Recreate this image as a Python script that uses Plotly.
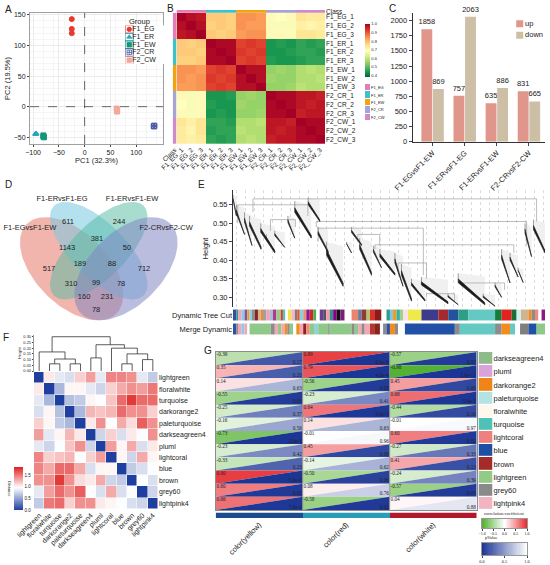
import numpy as np
import plotly.graph_objects as go
from plotly.colors import sample_colorscale

W, H = 550, 565
SANS = "Liberation Sans"
SERIF = "Liberation Serif"
INK = "#222222"

# ---------------- data ----------------
# A: PCA
pca_groups = ["F1_EG", "F1_ER", "F1_EW", "F2_CR", "F2_CW"]
pca_pc1 = [[-25, -25, -25], [-95, -95, -94], [-80, -80, -79], [135, 134, 135], [63, 63, 62]]
pca_pc2 = [[143, 127, 120], [-44, -45, -44], [-47, -49, -50], [-32, -32, -31], [-5, -8, -3]]
pca_colors = ["#E8392E", "#25A7C0", "#14967A", "#4B5AA8", "#F3A89A"]
pca_symbols = ["circle", "triangle-up", "square", "square-cross-open", "square"]

# B: sample correlation
samples = ["F1_EG_1", "F1_EG_2", "F1_EG_3", "F1_ER_1", "F1_ER_2", "F1_ER_3",
           "F1_EW_1", "F1_EW_2", "F1_EW_3", "F2_CR_1", "F2_CR_2", "F2_CR_3",
           "F2_CW_1", "F2_CW_2", "F2_CW_3"]
sample_corr = [
    [1.00, 0.98, 0.97, 0.78, 0.78, 0.77, 0.84, 0.84, 0.83, 0.70, 0.69, 0.70, 0.74, 0.73, 0.73],
    [0.98, 1.00, 0.98, 0.77, 0.78, 0.77, 0.84, 0.83, 0.83, 0.68, 0.68, 0.68, 0.72, 0.71, 0.72],
    [0.97, 0.98, 1.00, 0.78, 0.77, 0.78, 0.83, 0.84, 0.84, 0.70, 0.70, 0.70, 0.74, 0.74, 0.73],
    [0.78, 0.77, 0.78, 1.00, 0.99, 0.99, 0.92, 0.93, 0.92, 0.44, 0.45, 0.44, 0.46, 0.45, 0.46],
    [0.78, 0.78, 0.77, 0.99, 1.00, 0.99, 0.93, 0.92, 0.93, 0.44, 0.44, 0.45, 0.46, 0.46, 0.45],
    [0.77, 0.77, 0.78, 0.99, 0.99, 1.00, 0.92, 0.93, 0.92, 0.45, 0.44, 0.44, 0.45, 0.46, 0.46],
    [0.84, 0.84, 0.83, 0.92, 0.93, 0.92, 1.00, 0.98, 0.98, 0.55, 0.56, 0.55, 0.58, 0.59, 0.58],
    [0.84, 0.83, 0.84, 0.93, 0.92, 0.93, 0.98, 1.00, 0.98, 0.56, 0.55, 0.55, 0.58, 0.58, 0.59],
    [0.83, 0.83, 0.84, 0.92, 0.93, 0.92, 0.98, 0.98, 1.00, 0.55, 0.55, 0.56, 0.59, 0.58, 0.58],
    [0.70, 0.68, 0.70, 0.44, 0.44, 0.45, 0.55, 0.56, 0.55, 1.00, 0.99, 0.99, 0.97, 0.97, 0.96],
    [0.69, 0.68, 0.70, 0.45, 0.44, 0.44, 0.56, 0.55, 0.55, 0.99, 1.00, 0.99, 0.97, 0.96, 0.97],
    [0.70, 0.68, 0.70, 0.44, 0.45, 0.44, 0.55, 0.55, 0.56, 0.99, 0.99, 1.00, 0.96, 0.97, 0.97],
    [0.74, 0.72, 0.74, 0.46, 0.46, 0.45, 0.58, 0.58, 0.59, 0.97, 0.97, 0.96, 1.00, 0.99, 0.99],
    [0.73, 0.71, 0.74, 0.45, 0.46, 0.46, 0.59, 0.58, 0.58, 0.97, 0.96, 0.97, 0.99, 1.00, 0.99],
    [0.73, 0.72, 0.73, 0.46, 0.45, 0.46, 0.58, 0.59, 0.58, 0.96, 0.97, 0.97, 0.99, 0.99, 1.00],
]
class_names = ["F1_EG", "F1_ER", "F1_EW", "F2_CR", "F2_CW"]
class_colors = ["#E27DB6", "#3CC2CD", "#EFA512", "#A7A3D6", "#CF8ACB"]
sample_class = [0, 0, 0, 1, 1, 1, 2, 2, 2, 3, 3, 3, 4, 4, 4]

# C: DEG counts
deg_pairs = ["F1-EGvsF1-EW", "F1-ERvsF1-EG", "F1-ERvsF1-EW", "F2-CRvsF2-CW"]
deg_up = [1858, 757, 635, 831]
deg_down = [869, 2063, 886, 665]
deg_names = ["up", "down"]
deg_colors = ["#E0968A", "#CDBFA5"]

# D: Venn
venn_sets = ["F1-EGvsF1-EW", "F1-ERvsF1-EG", "F1-ERvsF1-EW", "F2-CRvsF2-CW"]
venn_counts = [517, 611, 244, 712, 1143, 381, 50, 189, 88, 310, 99, 78, 160, 231, 78]

# E: WGCNA dendrogram (leaf position in %, heights)
e_left = [0, 1.1, 3.7, 5.3, 8.9, 10.7, 13.4, 17.6, 19.8, 24.1, 27.3, 30.0, 36.4, 38.0, 40.6,
          45.0, 47.1, 51.9, 54.0, 57.2, 60.4, 68.9, 72.2, 80.2, 84.0, 86.1, 88.8, 91.4, 93.6, 96.3]
e_right = [1.1, 3.7, 6.1, 9.0, 13.4, 13.4, 16.6, 19.8, 25.1, 27.8, 30.5, 35.3, 38.0, 41.2, 44.4,
           47.6, 51.9, 54.5, 57.2, 61.5, 68.9, 72.2, 80.7, 84.0, 86.1, 88.8, 91.4, 93.0, 95.7, 100]
e_top = [0.577, 0.55, 0.53, 0.52, 0.50, 0.47, 0.48, 0.52, 0.56, 0.57, 0.49, 0.45, 0.45, 0.49, 0.46,
         0.44, 0.43, 0.42, 0.39, 0.35, 0.355, 0.31, 0.365, 0.31, 0.34, 0.43, 0.42, 0.38, 0.50, 0.51]
e_bottom = [0.52, 0.47, 0.44, 0.43, 0.42, 0.425, 0.435, 0.46, 0.46, 0.505, 0.42, 0.33, 0.42, 0.44, 0.36,
            0.38, 0.36, 0.33, 0.29, 0.29, 0.283, 0.28, 0.28, 0.276, 0.30, 0.339, 0.355, 0.34, 0.41, 0.42]
e_join_left = [6.4, 1.5, 26.7, 27.3, 45.5, 52.9, 62.0, 73.3, 40.0, 12.0]
e_join_right = [97.3, 24.0, 94.1, 61.0, 90.0, 62.0, 71.0, 87.0, 47.0, 20.0]
e_join_height = [0.566, 0.55, 0.505, 0.487, 0.442, 0.393, 0.31, 0.339, 0.47, 0.51]
e_join_left_end = [0.53, 0.50, 0.49, 0.45, 0.43, 0.37, 0.30, 0.33, 0.45, 0.48]
e_join_right_end = [0.505, 0.52, 0.44, 0.36, 0.42, 0.35, 0.29, 0.32, 0.44, 0.49]

dyn_segments = [
    (0, "#2F4FA0"), (1.1, "#2A9D8F"), (1.6, "#F4A6B5"), (2.7, "#8EC9E8"), (3.7, "#7E57A6"),
    (4.6, "#F39A1E"), (5.3, "#87CEEB"), (6.1, "#8C8C8C"), (7.0, "#8B2323"), (8.0, "#D2B48C"),
    (8.9, "#F08A24"), (9.6, "#A0A0A0"), (10.7, "#F2A1B8"), (11.8, "#A9BCD8"), (12.8, "#B03A8E"),
    (13.9, "#9BCB8A"), (15.3, "#E03A2E"), (16.0, "#4FC9C0"), (16.8, "#FFFFFF"), (17.6, "#F2E34C"),
    (18.7, "#F5B7C5"), (19.8, "#7F7F7F"), (20.6, "#E8552B"), (21.4, "#7FD6E3"), (22.5, "#EE8C7A"),
    (23.5, "#8B1A89"), (24.6, "#D62728"), (25.7, "#4CAF50"), (26.7, "#FFFFFF"), (27.8, "#6A3D9A"),
    (28.9, "#555555"), (29.9, "#F29CB2"), (31.0, "#3A8F8A"), (32.1, "#8B008B"), (33.2, "#111111"),
    (34.4, "#7B1E7A"), (35.8, "#FFFFFF"), (38.0, "#E9846F"), (40.1, "#6A7BA2"), (41.2, "#8E3B3B"),
    (42.8, "#B5C46A"), (43.9, "#D7322C"), (45.5, "#8B1A1A"), (47.6, "#FFFFFF"), (49.2, "#2A9D8F"),
    (50.3, "#7EC8E3"), (51.3, "#F39A1E"), (52.4, "#3AB0A5"), (53.5, "#9FD28A"), (54.5, "#F8E1E7"),
    (56.1, "#EFE94A"), (60.4, "#3E3A8C"), (65.8, "#A32A2E"), (69.0, "#2450A0"), (72.2, "#2E9E87"),
    (75.4, "#63C9C2"), (84.0, "#177B3C"), (86.1, "#E3211F"), (89.3, "#1B6E35"), (90.9, "#CFF0F2"),
    (92.3, "#D2B48C"), (94.7, "#F08A24"), (95.7, "#8C8C8C"), (96.8, "#EE8C7A"), (97.9, "#FFFFFF"),
    (98.9, "#8B1A89"),
]
merge_segments = [
    (0, "#2F4FA0"), (1.1, "#8C8C8C"), (1.6, "#F4A6B5"), (2.7, "#8EC9E8"), (3.7, "#F4A6B5"),
    (4.6, "#FFFFFF"), (5.3, "#8FC98A"), (12.1, "#8C8C8C"), (13.4, "#F4A6B5"), (14.4, "#8FC98A"),
    (15.5, "#F4A6B5"), (16.6, "#F28C1C"), (17.4, "#8C8C8C"), (18.2, "#8FC98A"), (19.3, "#FFFFFF"),
    (20.3, "#F28C1C"), (21.4, "#F4A6B5"), (22.5, "#8B2323"), (23.5, "#EE8C7A"), (24.6, "#8FC98A"),
    (26.2, "#8ED1E0"), (27.3, "#8FC98A"), (30.5, "#8C8C8C"), (31.0, "#8FC98A"), (38.0, "#8C8C8C"),
    (39.0, "#8FC98A"), (40.1, "#F4A6B5"), (41.2, "#8C8C8C"), (42.2, "#F4A6B5"), (43.9, "#B03A2E"),
    (45.5, "#8B2323"), (47.1, "#FFFFFF"), (48.1, "#8C8C8C"), (49.2, "#2F4FA0"), (50.3, "#F28C1C"),
    (51.9, "#8C8C8C"), (52.9, "#FFFFFF"), (55.1, "#2151A6"), (71.1, "#8C8C8C"), (72.7, "#63C9C2"),
    (84.0, "#8C8C8C"), (86.1, "#F28C1C"), (88.8, "#63C9C2"), (90.4, "#FFFFFF"), (92.0, "#7F7F7F"),
    (94.7, "#2151A6"), (97.3, "#8FC98A"),
]

# F: module distance
f_modules = ["lightgreen", "floralwhite", "turquoise", "darkorange2", "paleturquoise", "darkseagreen4",
             "pluml", "lightcoral", "blue", "brown", "grey60", "lightpink4"]
f_dist = [
    [0.00, 1.05, 0.85, 0.80, 1.15, 1.35, 0.85, 1.45, 1.45, 1.40, 0.85, 0.70],
    [1.05, 0.00, 0.60, 1.00, 1.00, 0.85, 0.75, 1.15, 1.30, 1.40, 1.35, 1.50],
    [0.85, 0.60, 0.00, 0.65, 0.70, 1.00, 0.95, 1.20, 1.55, 1.75, 1.55, 1.55],
    [0.80, 1.00, 0.65, 0.00, 0.60, 1.25, 1.20, 1.25, 1.55, 1.40, 1.40, 1.15],
    [1.15, 1.00, 0.70, 0.60, 0.00, 1.05, 1.40, 0.95, 1.30, 1.10, 1.60, 1.40],
    [1.35, 0.85, 1.00, 1.25, 1.05, 0.00, 0.75, 1.15, 0.80, 1.05, 0.95, 1.40],
    [0.85, 0.75, 0.95, 1.20, 1.40, 0.75, 0.00, 1.35, 1.00, 1.30, 0.80, 1.05],
    [1.45, 1.15, 1.20, 1.25, 0.95, 1.15, 1.35, 0.00, 1.00, 0.75, 1.30, 1.00],
    [1.45, 1.30, 1.55, 1.55, 1.30, 0.80, 1.00, 1.00, 0.00, 0.70, 0.80, 0.95],
    [1.40, 1.40, 1.75, 1.40, 1.10, 1.05, 1.30, 0.75, 0.70, 0.00, 0.95, 0.80],
    [0.85, 1.35, 1.55, 1.40, 1.60, 0.95, 0.80, 1.30, 0.80, 0.95, 0.00, 0.75],
    [0.70, 1.50, 1.55, 1.15, 1.40, 1.40, 1.05, 1.00, 0.95, 0.80, 0.75, 0.00],
]
f_merge_a = [1, 3, 12, 0, 8, 10, 16, 7, 5, 20, 15]
f_merge_b = [2, 4, 13, 14, 9, 11, 17, 18, 6, 19, 21]
f_merge_h = [0.063, 0.063, 0.105, 0.167, 0.063, 0.10, 0.15, 0.20, 0.115, 0.23, 0.30]

# G: module-trait
g_modules = ["darkseagreen4", "pluml", "darkorange2", "paleturquoise", "floralwhite", "turquoise",
             "lightcoral", "blue", "brown", "lightgreen", "grey60", "lightpink4"]
g_module_colors = ["#8DBB8A", "#D9A3D9", "#F08419", "#B3E3E3", "#FDF7EC", "#4FC1B7",
                   "#EE8080", "#1E4FA3", "#A52A2A", "#93CB86", "#8A8A8A", "#F2B4C2"]
g_traits = ["color(yellow)", "color(red)", "color(white)"]
g_trait_colors = ["#1B4D8C", "#2A9CB8", "#B2182B"]
g_corr_yellow = [-0.39, 0.35, 0.14, -0.55, -0.25, -0.16, -0.73, -0.23, -0.33, 0.90, 0.60, 0.66]
g_p_yellow = [0.17, 0.20, 0.63, 0.03, 0.37, 0.56, 2.0e-3, 0.42, 0.23, 5.0e-6, 0.02, 7.8e-3]
g_corr_red = [0.89, 0.79, -0.56, -0.23, 0.64, 0.14, -0.01, 0.45, -0.14, -0.50, 0.08, -0.58]
g_p_red = [9.6e-6, 4.6e-4, 0.03, 0.41, 9.8e-3, 0.63, 0.96, 0.09, 0.62, 0.06, 0.76, 0.02]
g_corr_white = [-0.57, -0.98, 0.45, 0.68, -0.44, -0.01, 0.60, -0.27, 0.41, -0.24, -0.57, 0.04]
g_p_white = [0.03, 1.6e-11, 0.09, 5.4e-3, 0.10, 0.97, 0.02, 0.33, 0.13, 0.39, 0.03, 0.88]


# ---------------- helpers ----------------
def xd(left, right):
    return [left / W, right / W]


def yd(top, bottom):
    return [1 - bottom / H, 1 - top / H]


def tf(size, family=SANS):
    return dict(size=size, family=family, color=INK)


def discrete(colors):
    n = len(colors)
    out = []
    for i, c in enumerate(colors):
        out += [[i / n, c], [(i + 1) / n, c]]
    return out


def fmt_p(p):
    if p >= 0.01:
        return f"{p:.2f}"
    m, e = f"{p:.1e}".split("e")
    return f"{m}e{int(e)}"


def ann(text, px, py, size=7, xa="left", ya="top", **kw):
    d = dict(x=px / W, y=1 - py / H, xref="paper", yref="paper", text=text, showarrow=False,
             xanchor=xa, yanchor=ya, font=tf(size, kw.pop("family", SANS)))
    d.update(kw)
    return d


fig = go.Figure()

# ---------------- A ----------------
for g, xs, ys, col, sym in zip(pca_groups, pca_pc1, pca_pc2, pca_colors, pca_symbols):
    fig.add_trace(go.Scatter(x=xs, y=ys, mode="markers", xaxis="x", yaxis="y",
                             marker=dict(color=col, symbol=sym, size=5, line=dict(color=col, width=1)),
                             hoverinfo="skip"))
idx5 = list(range(len(pca_groups)))
fig.add_trace(go.Scatter(x=[0] * 5, y=idx5, mode="markers", xaxis="x17", yaxis="y17",
                         marker=dict(symbol="square-open", size=8, color=pca_colors, line=dict(width=0.8)),
                         hoverinfo="skip"))
fig.add_trace(go.Scatter(x=[0] * 5, y=idx5, mode="markers", xaxis="x17", yaxis="y17",
                         marker=dict(symbol=pca_symbols, size=4.5, color=pca_colors,
                                     line=dict(width=0.8, color=pca_colors)), hoverinfo="skip"))
fig.add_trace(go.Scatter(x=[0.35] * 5, y=idx5, mode="text", text=pca_groups, textposition="middle right",
                         textfont=tf(7), xaxis="x17", yaxis="y17", hoverinfo="skip"))

# ---------------- B ----------------
fig.add_trace(go.Heatmap(z=sample_corr, x=samples, y=samples, colorscale="RdYlGn", reversescale=True,
                         zmin=0.38, zmax=1.0, xaxis="x2", yaxis="y2", hoverinfo="skip",
                         colorbar=dict(x=365 / W, xanchor="left", y=1 - 24 / H, yanchor="top",
                                       len=53 / H, thickness=5, outlinewidth=0, ticks="", xpad=0, ypad=0,
                                       tickvals=[0.4, 0.5, 0.6, 0.7, 0.8, 0.9, 1.0],
                                       ticktext=["0.4", "0.5", "0.6", "0.7", "0.8", "0.9", "1.0"],
                                       tickfont=tf(4))))
fig.add_trace(go.Heatmap(z=[sample_class], x=samples, y=["Class"], colorscale=discrete(class_colors),
                         zmin=-0.5, zmax=4.5, showscale=False, xaxis="x3", yaxis="y3", hoverinfo="skip"))
fig.add_trace(go.Heatmap(z=[[c] for c in sample_class], x=["Class"], y=samples,
                         colorscale=discrete(class_colors), zmin=-0.5, zmax=4.5, showscale=False,
                         xaxis="x4", yaxis="y4", hoverinfo="skip"))
fig.add_trace(go.Heatmap(z=[[i] for i in range(5)], x=[0], y=class_names, colorscale=discrete(class_colors),
                         zmin=-0.5, zmax=4.5, showscale=False, ygap=1, xaxis="x5", yaxis="y5",
                         hoverinfo="skip"))

# ---------------- C ----------------
for name, vals, col in zip(deg_names, [deg_up, deg_down], deg_colors):
    fig.add_trace(go.Bar(x=deg_pairs, y=vals, name=name, marker_color=col, text=vals,
                         textposition="outside", textfont=tf(7.5), cliponaxis=False,
                         constraintext="none", xaxis="x6", yaxis="y6", hoverinfo="skip"))
fig.add_trace(go.Scatter(x=[0, 0], y=[0, 1], mode="markers+text", text=deg_names, textposition="middle right",
                         marker=dict(symbol="square", size=7, color=deg_colors),
                         textfont=tf(7.5), xaxis="x18", yaxis="y18", hoverinfo="skip"))

# ---------------- D ----------------
venn_geom = [  # center x, center y, a, b, rotation (unit square, VennDiagram style)
    (0.35, 0.47, 0.35, 0.20, 135),
    (0.50, 0.57, 0.35, 0.15, 135),
    (0.50, 0.57, 0.35, 0.15, 45),
    (0.65, 0.47, 0.35, 0.20, 45),
]
venn_fill = ["rgba(232,120,108,0.55)", "rgba(120,200,225,0.55)", "rgba(80,185,160,0.5)",
             "rgba(130,135,195,0.55)"]
t = np.linspace(0, 2 * np.pi, 120)
for (cx, cy, a, b, rot), fc in zip(venn_geom, venn_fill):
    r = np.deg2rad(rot)
    ex = cx + a * np.cos(t) * np.cos(r) - b * np.sin(t) * np.sin(r)
    ey = cy + a * np.cos(t) * np.sin(r) + b * np.sin(t) * np.cos(r)
    fig.add_trace(go.Scatter(x=ex, y=ey, mode="lines", fill="toself", fillcolor=fc, line=dict(width=0),
                             xaxis="x7", yaxis="y7", hoverinfo="skip"))
venn_pos_x = [0.225, 0.330, 0.612, 0.750, 0.325, 0.490, 0.656, 0.396, 0.573, 0.347, 0.485, 0.623,
              0.419, 0.546, 0.485]
venn_pos_y = [0.469, 0.729, 0.729, 0.469, 0.585, 0.635, 0.585, 0.496, 0.496, 0.386, 0.392, 0.386,
              0.314, 0.314, 0.242]
fig.add_trace(go.Scatter(x=venn_pos_x, y=venn_pos_y, mode="text", text=[str(v) for v in venn_counts],
                         textfont=tf(7.5), xaxis="x7", yaxis="y7", hoverinfo="skip"))
fig.add_trace(go.Scatter(x=[0.120, 0.297, 0.684, 0.872], y=[0.695, 0.852, 0.852, 0.695], mode="text",
                         text=venn_sets, textfont=tf(7.5), xaxis="x7", yaxis="y7", hoverinfo="skip"))

# ---------------- E ----------------
hx, hy, kx, ky, lx, ly = [], [], [], [], [], []
for x0, x1, top, bot in zip(e_left, e_right, e_top, e_bottom):
    w, d = x1 - x0, top - bot
    hx += [x0, x1, x1, x0, x0, None]
    hy += [top, top - 0.1 * d, bot, top - 0.2 * d, top, None]
    kx += [x0, x1, x1, x0, x0, None]
    ky += [top - 0.18 * d, bot + 0.07 * d, bot, top - 0.3 * d, top - 0.18 * d, None]
    lx += [x0, x0, None]
    ly += [top, top - 0.2 * d, None]
fig.add_trace(go.Scatter(x=hx, y=hy, mode="lines", fill="toself", fillcolor="#F0F0F0",
                         line=dict(width=0), xaxis="x8", yaxis="y8", hoverinfo="skip"))
cx_, cy_ = [], []
for xl, xr, hh, le, re in zip(e_join_left, e_join_right, e_join_height, e_join_left_end, e_join_right_end):
    cx_ += [xl, xl, xr, xr, None]
    cy_ += [le, hh, hh, re, None]
fig.add_trace(go.Scatter(x=cx_, y=cy_, mode="lines", line=dict(color="#A0A0A0", width=0.7),
                         xaxis="x8", yaxis="y8", hoverinfo="skip"))
fig.add_trace(go.Scatter(x=lx, y=ly, mode="lines", line=dict(color="#777", width=0.7),
                         xaxis="x8", yaxis="y8", hoverinfo="skip"))
fig.add_trace(go.Scatter(x=kx, y=ky, mode="lines", fill="toself", fillcolor="#1A1A1A",
                         line=dict(color="#222", width=0.7), xaxis="x8", yaxis="y8", hoverinfo="skip"))

seg_y, seg_base, seg_w, seg_c = [], [], [], []
for label, segs in (("Dynamic Tree Cut", dyn_segments), ("Merge Dynamic", merge_segments)):
    starts = [s for s, _ in segs]
    ends = starts[1:] + [100]
    for (s, c), e in zip(segs, ends):
        seg_y.append(label)
        seg_base.append(s)
        seg_w.append(e - s)
        seg_c.append(c)
fig.add_trace(go.Bar(y=seg_y, x=seg_w, base=seg_base, orientation="h", width=0.78,
                     marker=dict(color=seg_c, line=dict(width=0)), xaxis="x9", yaxis="y9", hoverinfo="skip"))

# ---------------- F ----------------
pos = {i: float(i) for i in range(12)}
hgt = {i: 0.0 for i in range(12)}
dx, dy = [], []
for k, (a, b, h) in enumerate(zip(f_merge_a, f_merge_b, f_merge_h)):
    node = 12 + k
    dx += [pos[a], pos[a], pos[b], pos[b], None]
    dy += [hgt[a], h, h, hgt[b], None]
    pos[node] = (pos[a] + pos[b]) / 2
    hgt[node] = h
fig.add_trace(go.Scatter(x=dx, y=dy, mode="lines", line=dict(color="#333", width=0.8),
                         xaxis="x10", yaxis="y10", hoverinfo="skip"))
fig.add_trace(go.Heatmap(z=f_dist, x=list(range(12)), y=list(range(12)),
                         colorscale=[[0, "#1F3FA0"], [0.52, "#FFFFFF"], [1, "#E0201E"]],
                         zmin=0, zmax=1.85, xgap=0.5, ygap=0.5, xaxis="x11", yaxis="y11", hoverinfo="skip",
                         colorbar=dict(x=14 / W, xanchor="left", y=1 - 510 / H, yanchor="bottom",
                                       len=43 / H, thickness=9, outlinewidth=0, ticks="", xpad=0, ypad=0,
                                       tickvals=[0, 0.5, 1.0, 1.5], ticktext=["0.0", "0.5", "1.0", "1.5"],
                                       tickfont=tf(4.5))))

# ---------------- G ----------------
corr_scale = [[0, "rgb(80,175,45)"], [0.5, "rgb(255,255,255)"], [1, "rgb(230,40,45)"]]
p_scale = [[0, "rgb(28,54,150)"], [1, "rgb(255,255,255)"]]
g_corr = [g_corr_yellow, g_corr_red, g_corr_white]
g_p = [g_p_yellow, g_p_red, g_p_white]
tx_c, ty_c, tt_c, tx_p, ty_p, tt_p = [], [], [], [], [], []
for j in range(3):
    for i in range(12):
        r, p = g_corr[j][i], g_p[j][i]
        cc = sample_colorscale(corr_scale, [(r + 1) / 2])[0]
        pc = sample_colorscale(p_scale, [p])[0]
        fig.add_trace(go.Scatter(x=[j, j, j + 1, j], y=[i + 1, i, i, i + 1], mode="lines", fill="toself",
                                 fillcolor=cc, line=dict(width=0), xaxis="x12", yaxis="y12", hoverinfo="skip"))
        fig.add_trace(go.Scatter(x=[j, j + 1, j + 1, j], y=[i + 1, i + 1, i, i + 1], mode="lines",
                                 fill="toself", fillcolor=pc, line=dict(width=0), xaxis="x12", yaxis="y12",
                                 hoverinfo="skip"))
        tx_c.append(j + 0.01)
        ty_c.append(i + 0.22)
        tt_c.append(f"{r:.2f}")
        tx_p.append(j + 0.99)
        ty_p.append(i + 0.8)
        tt_p.append(fmt_p(p))
fig.add_trace(go.Scatter(x=tx_c, y=ty_c, mode="text", text=tt_c, textposition="middle right",
                         textfont=tf(5.2, SERIF), xaxis="x12", yaxis="y12", hoverinfo="skip"))
fig.add_trace(go.Scatter(x=tx_p, y=ty_p, mode="text", text=tt_p, textposition="middle left",
                         textfont=tf(5.2, SERIF), xaxis="x12", yaxis="y12", hoverinfo="skip"))
fig.add_trace(go.Scatter(x=[1, 1, None, 2, 2], y=[0, 12, None, 0, 12], mode="lines",
                         line=dict(color="#8C8C8C", width=0.8), xaxis="x12", yaxis="y12", hoverinfo="skip"))
fig.add_trace(go.Heatmap(z=[[0, 1, 2]], x=[0, 1, 2], y=[0], colorscale=discrete(g_trait_colors),
                         zmin=-0.5, zmax=2.5, showscale=False, xaxis="x13", yaxis="y13", hoverinfo="skip"))
fig.add_trace(go.Heatmap(z=[[i] for i in range(12)], x=[0], y=list(range(12)),
                         colorscale=discrete(g_module_colors), zmin=-0.5, zmax=11.5, showscale=False,
                         ygap=1.2, xaxis="x14", yaxis="y14", hoverinfo="skip"))
grad = np.linspace(-1, 1, 61)
fig.add_trace(go.Heatmap(z=[grad], x=grad, y=[0], colorscale=corr_scale, zmin=-1, zmax=1, showscale=False,
                         xaxis="x15", yaxis="y15", hoverinfo="skip"))
grad_p = np.linspace(0, 1, 41)
fig.add_trace(go.Heatmap(z=[grad_p], x=grad_p, y=[0], colorscale=p_scale, zmin=0, zmax=1, showscale=False,
                         xaxis="x16", yaxis="y16", hoverinfo="skip"))

# ---------------- layout ----------------
hid = dict(visible=False, fixedrange=True)
layout = dict(
    template="none",
    width=W, height=H, margin=dict(l=0, r=0, t=0, b=0, autoexpand=False),
    paper_bgcolor="white", plot_bgcolor="white",
    font=dict(family=SANS, size=7, color=INK),
    barmode="group", bargap=0.28, bargroupgap=0.06,
    showlegend=False,
    # A
    xaxis=dict(domain=xd(30, 163), range=[-106, 152], anchor="y", tickvals=[-100, -50, 0, 50, 100],
               ticks="outside", ticklen=2, showline=True, mirror=True, linecolor="#A0A0A0",
               showgrid=True, gridcolor="#EBEBEB", zeroline=False, tickfont=tf(7),
               minor=dict(showgrid=True, gridcolor="#F5F5F5", ticks=""),
               title=dict(text="PC1 (32.3%)", font=tf(7.5), standoff=2)),
    yaxis=dict(domain=yd(13, 144), range=[-61, 153], anchor="x", tickvals=[-50, 0, 50, 100, 150],
               ticks="outside", ticklen=2, showline=True, mirror=True, linecolor="#A0A0A0",
               showgrid=True, gridcolor="#EBEBEB", zeroline=False, tickfont=tf(7),
               minor=dict(showgrid=True, gridcolor="#F5F5F5", ticks=""),
               title=dict(text="PC2 (19.5%)", font=tf(7.5), standoff=2)),
    xaxis17=dict(domain=xd(125, 165), range=[-0.5, 4.2], anchor="y17", **hid),
    yaxis17=dict(domain=yd(25.5, 64), range=[4.5, -0.5], anchor="x17", **hid),
    # B
    xaxis2=dict(domain=xd(176.5, 325), anchor="y2", tickangle=-45, tickfont=tf(6.5), ticks="",
                showgrid=False, zeroline=False),
    yaxis2=dict(domain=yd(12.7, 144), anchor="x2", autorange="reversed", side="right",
                tickfont=tf(6.5), ticks="", showgrid=False, zeroline=False),
    xaxis3=dict(domain=xd(176.5, 325), anchor="y3", **hid),
    yaxis3=dict(domain=yd(10, 12.7), anchor="x3", side="right", tickfont=tf(6.5), ticks="",
                showgrid=False, zeroline=False),
    xaxis4=dict(domain=xd(172.7, 176.3), anchor="y4", tickangle=-45, tickfont=tf(6.5), ticks="",
                showgrid=False, zeroline=False),
    yaxis4=dict(domain=yd(12.7, 144), anchor="x4", autorange="reversed", **hid),
    xaxis5=dict(domain=xd(365, 370), anchor="y5", **hid),
    yaxis5=dict(domain=yd(84, 121), anchor="x5", side="right", autorange="reversed",
                tickfont=tf(4), ticks="", showgrid=False, zeroline=False),
    # C
    xaxis6=dict(domain=xd(412.7, 545), anchor="y6", range=[-0.62, 3.5], showline=True, linecolor="#333",
                ticks="outside", ticklen=3, tickangle=-45, tickfont=tf(7.5), showgrid=False,
                zeroline=False),
    yaxis6=dict(domain=yd(12.7, 141.7), anchor="x6", range=[0, 2130],
                tickvals=[0, 250, 500, 750, 1000, 1250, 1500, 1750, 2000], showline=True, linecolor="#333",
                ticks="outside", ticklen=3, tickfont=tf(7.5), showgrid=False, zeroline=False),
    xaxis18=dict(domain=xd(515, 548), range=[-0.5, 3], anchor="y18", **hid),
    yaxis18=dict(domain=yd(18, 41), range=[1.5, -0.5], anchor="x18", **hid),
    # D
    xaxis7=dict(domain=xd(0, 200), range=[-0.0455, 1.059], anchor="y7", **hid),
    yaxis7=dict(domain=yd(190, 335), range=[0.104, 0.905], anchor="x7", **hid),
    # E
    xaxis8=dict(domain=xd(233, 545), range=[0, 100], anchor="y8", showticklabels=False, ticks="",
                showgrid=True, gridcolor="#C4C4C4", griddash="dot", gridwidth=0.6, dtick=2.9, tick0=1.0,
                zeroline=False, showline=False),
    yaxis8=dict(domain=yd(190, 307), range=[0.274, 0.59], anchor="x8",
                tickvals=[0.30, 0.35, 0.40, 0.45, 0.50, 0.55],
                ticktext=["0.30", "0.35", "0.40", "0.45", "0.50", "0.55"], showline=True, linecolor="#333",
                ticks="outside", ticklen=3, tickfont=tf(7.5), showgrid=False, zeroline=False,
                title=dict(text="Height", font=tf(7.5), standoff=3)),
    xaxis9=dict(domain=xd(233, 545), range=[0, 100], anchor="y9", **hid),
    yaxis9=dict(domain=yd(308, 336), anchor="x9", categoryorder="array",
                categoryarray=["Merge Dynamic", "Dynamic Tree Cut"], tickfont=tf(7.5), ticks="",
                ticklen=2, showgrid=False, showline=False, zeroline=False),
    # F
    xaxis10=dict(domain=xd(34, 158), range=[-0.5, 11.5], anchor="y10", **hid),
    yaxis10=dict(domain=yd(335, 371.5), range=[-0.004, 0.315], anchor="x10",
                 tickvals=[0, 0.05, 0.10, 0.15, 0.20, 0.25, 0.30],
                 ticktext=["0.00", "0.05", "0.10", "0.15", "0.20", "0.25", "0.30"],
                 showline=True, linecolor="#555", linewidth=0.6, ticks="outside", ticklen=1.5,
                 tickfont=tf(4), showgrid=False, zeroline=False,
                 title=dict(text="Height", font=tf(4), standoff=1)),
    xaxis11=dict(domain=xd(34, 158), range=[-0.5, 11.5], anchor="y11", tickvals=list(range(12)),
                 ticktext=f_modules, tickangle=-45, tickfont=tf(7), ticks="", showgrid=False,
                 zeroline=False),
    yaxis11=dict(domain=yd(372, 509), range=[11.5, -0.5], anchor="x11", tickvals=list(range(12)),
                 ticktext=f_modules, side="right", tickfont=tf(7), ticks="", showgrid=False,
                 zeroline=False),
    # G
    xaxis12=dict(domain=xd(215.7, 476.7), range=[0, 3], anchor="y12", showline=True, mirror=True,
                 linecolor="#8C8C8C", showticklabels=False, ticks="", showgrid=False, zeroline=False),
    yaxis12=dict(domain=yd(352, 510), range=[12, 0], anchor="x12", showline=True, mirror=True,
                 linecolor="#8C8C8C", showticklabels=False, ticks="", showgrid=False, zeroline=False),
    xaxis13=dict(domain=xd(215.7, 476.7), range=[-0.5, 2.5], anchor="y13", tickvals=[0, 1, 2],
                 ticktext=g_traits, tickangle=-45, tickfont=tf(7.5), ticks="", showgrid=False,
                 zeroline=False),
    yaxis13=dict(domain=yd(512.5, 518), anchor="x13", **hid),
    xaxis14=dict(domain=xd(478.5, 492.5), anchor="y14", **hid),
    yaxis14=dict(domain=yd(352, 510), range=[11.5, -0.5], anchor="x14", tickvals=list(range(12)),
                 ticktext=g_modules, side="right", tickfont=tf(7.5), ticks="", showgrid=False,
                 zeroline=False),
    xaxis15=dict(domain=xd(482, 527), range=[-1, 1], anchor="y15", tickvals=[-1, -0.5, 0, 0.5, 1],
                 ticktext=["\u22121.0", "\u22120.5", "0.0", "0.5", "1.0"],
                 tickfont=tf(4, SERIF), ticks="outside", ticklen=1.5, showgrid=False,
                 showline=True, mirror=True, linecolor="#999", zeroline=False),
    yaxis15=dict(domain=yd(519, 528), anchor="x15", showticklabels=False, ticks="", showgrid=False,
                 showline=True, mirror=True, linecolor="#999", zeroline=False),
    xaxis16=dict(domain=xd(482, 527), range=[0, 1], anchor="y16", tickvals=[0, 0.5, 1],
                 ticktext=["0.0", "0.5", "1.0"], tickfont=tf(4.3, SERIF), ticks="outside",
                 ticklen=1.5, showgrid=False, showline=True, mirror=True, linecolor="#999", zeroline=False),
    yaxis16=dict(domain=yd(543, 555), anchor="x16", showticklabels=False, ticks="", showgrid=False,
                 showline=True, mirror=True, linecolor="#999", zeroline=False),
    shapes=[
        dict(type="line", xref="x", yref="y domain", x0=0, x1=0, y0=0, y1=1,
             line=dict(color="#444", width=0.8, dash="dash")),
        dict(type="line", xref="x domain", yref="y", x0=0, x1=1, y0=0, y1=0,
             line=dict(color="#444", width=0.8, dash="dash")),
    ],
    annotations=[
        ann("A", 3, 2, 10), ann("B", 165, 1, 10), ann("C", 387, 1, 10), ann("D", 3, 177, 10),
        ann("E", 196, 177, 10), ann("F", 1, 330, 10), ann("G", 202, 343, 10),
        ann("Group", 127, 15, 7.5),
        ann("Distance", 9, 489, 4, xa="center", ya="middle", textangle=90),
        ann("correlation coefficient", 504.5, 518, 4.5, xa="center", ya="bottom", family=SERIF),
        ann("pValue", 483, 542, 4.5, xa="left", ya="bottom", family=SERIF),
    ],
)
fig.update_layout(**layout)
fig.write_html("out.html", config={"displayModeBar": False, "staticPlot": True},
               post_script="document.body.style.margin='0';document.body.style.overflow='hidden';")
